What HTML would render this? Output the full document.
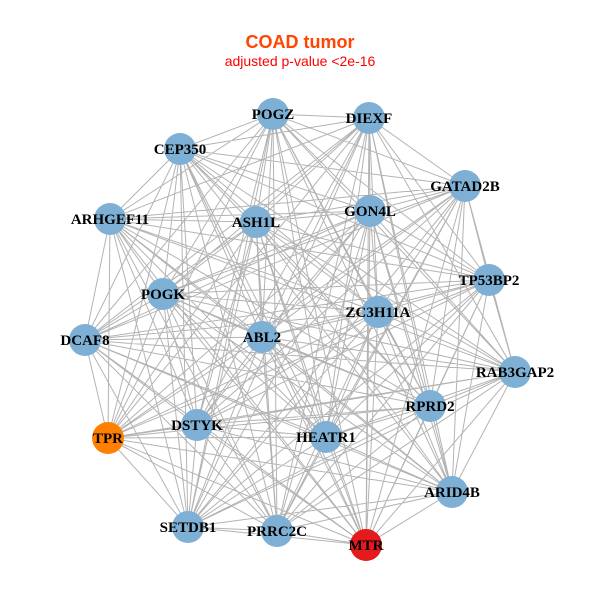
<!DOCTYPE html>
<html><head><meta charset="utf-8"><style>body{margin:0;background:#fff}svg{display:block}</style></head><body>
<svg width="600" height="600" xmlns="http://www.w3.org/2000/svg">
<rect width="600" height="600" fill="#fff"/>
<text x="300" y="48" text-anchor="middle" font-family="Liberation Sans, sans-serif" font-weight="bold" font-size="18" fill="#ff4500">COAD tumor</text>
<text x="300" y="66" text-anchor="middle" font-family="Liberation Sans, sans-serif" font-size="14" fill="#ff0000">adjusted p-value &lt;2e-16</text>
<path fill="none" stroke="#b3b3b3" stroke-width="1" d="
M273 114L369 118L273 114L180 149L273 114L465 186L273 114L110 219L273 114L256 222L273 114L370 211L273 114L489 280L273 114L163 294L273 114L378 312L273 114L85 340L273 114L262 337L273 114L515 372L273 114L430 406L273 114L108 438L273 114L197 425L273 114L326 437L273 114L452 492L273 114L188 527L273 114L277 531L273 114L366 545
M369 118L180 149L369 118L465 186L369 118L110 219L369 118L256 222L369 118L370 211L369 118L489 280L369 118L163 294L369 118L378 312L369 118L85 340L369 118L262 337L369 118L515 372L369 118L430 406L369 118L108 438L369 118L197 425L369 118L326 437L369 118L452 492L369 118L188 527L369 118L277 531L369 118L366 545
M180 149L465 186L180 149L110 219L180 149L256 222L180 149L370 211L180 149L489 280L180 149L163 294L180 149L378 312L180 149L85 340L180 149L262 337L180 149L515 372L180 149L430 406L180 149L108 438L180 149L197 425L180 149L326 437L180 149L452 492L180 149L188 527L180 149L277 531L180 149L366 545
M465 186L110 219L465 186L256 222L465 186L370 211L465 186L489 280L465 186L163 294L465 186L378 312L465 186L85 340L465 186L262 337L465 186L515 372L465 186L430 406L465 186L108 438L465 186L197 425L465 186L326 437L465 186L452 492L465 186L188 527L465 186L277 531L465 186L366 545
M110 219L256 222L110 219L370 211L110 219L489 280L110 219L163 294L110 219L378 312L110 219L85 340L110 219L262 337L110 219L515 372L110 219L430 406L110 219L108 438L110 219L197 425L110 219L326 437L110 219L452 492L110 219L188 527L110 219L277 531L110 219L366 545
M256 222L370 211L256 222L489 280L256 222L163 294L256 222L378 312L256 222L85 340L256 222L262 337L256 222L515 372L256 222L430 406L256 222L108 438L256 222L197 425L256 222L326 437L256 222L452 492L256 222L188 527L256 222L277 531L256 222L366 545
M370 211L489 280L370 211L163 294L370 211L378 312L370 211L85 340L370 211L262 337L370 211L515 372L370 211L430 406L370 211L108 438L370 211L197 425L370 211L326 437L370 211L452 492L370 211L188 527L370 211L277 531L370 211L366 545
M489 280L163 294L489 280L378 312L489 280L85 340L489 280L262 337L489 280L515 372L489 280L430 406L489 280L108 438L489 280L197 425L489 280L326 437L489 280L452 492L489 280L188 527L489 280L277 531L489 280L366 545
M163 294L378 312L163 294L85 340L163 294L262 337L163 294L515 372L163 294L430 406L163 294L108 438L163 294L197 425L163 294L326 437L163 294L452 492L163 294L188 527L163 294L277 531L163 294L366 545
M378 312L85 340L378 312L262 337L378 312L515 372L378 312L430 406L378 312L108 438L378 312L197 425L378 312L326 437L378 312L452 492L378 312L188 527L378 312L277 531L378 312L366 545
M85 340L262 337L85 340L515 372L85 340L430 406L85 340L108 438L85 340L197 425L85 340L326 437L85 340L452 492L85 340L188 527L85 340L277 531L85 340L366 545
M262 337L515 372L262 337L430 406L262 337L108 438L262 337L197 425L262 337L326 437L262 337L452 492L262 337L188 527L262 337L277 531L262 337L366 545
M515 372L430 406L515 372L108 438L515 372L197 425L515 372L326 437L515 372L452 492L515 372L188 527L515 372L277 531L515 372L366 545
M430 406L108 438L430 406L197 425L430 406L326 437L430 406L452 492L430 406L188 527L430 406L277 531L430 406L366 545
M108 438L197 425L108 438L326 437L108 438L452 492L108 438L188 527L108 438L277 531L108 438L366 545
M197 425L326 437L197 425L452 492L197 425L188 527L197 425L277 531L197 425L366 545
M326 437L452 492L326 437L188 527L326 437L277 531L326 437L366 545
M452 492L188 527L452 492L277 531L452 492L366 545
M188 527L277 531L188 527L366 545
M277 531L366 545"/>
<g fill="#7eb0d5">
<circle cx="273" cy="114" r="16"/><circle cx="369" cy="118" r="16"/><circle cx="180" cy="149" r="16"/><circle cx="465" cy="186" r="16"/><circle cx="110" cy="219" r="16"/><circle cx="256" cy="222" r="16"/><circle cx="370" cy="211" r="16"/><circle cx="489" cy="280" r="16"/><circle cx="163" cy="294" r="16"/><circle cx="378" cy="312" r="16"/><circle cx="85" cy="340" r="16"/><circle cx="262" cy="337" r="16"/><circle cx="515" cy="372" r="16"/><circle cx="430" cy="406" r="16"/><circle cx="197" cy="425" r="16"/><circle cx="326" cy="437" r="16"/><circle cx="452" cy="492" r="16"/><circle cx="188" cy="527" r="16"/><circle cx="277" cy="531" r="16"/>
</g>
<circle cx="108" cy="438" r="16" fill="#ff7f00"/>
<circle cx="366" cy="545" r="16" fill="#e41a1c"/>
<g font-family="Liberation Serif, serif" font-weight="bold" font-size="15" text-anchor="middle" fill="#000">
<text x="273" y="119">POGZ</text><text x="369" y="123">DIEXF</text><text x="180" y="154">CEP350</text><text x="465" y="191">GATAD2B</text><text x="110" y="224">ARHGEF11</text><text x="256" y="227">ASH1L</text><text x="370" y="216">GON4L</text><text x="489" y="285">TP53BP2</text><text x="163" y="299">POGK</text><text x="378" y="317">ZC3H11A</text><text x="85" y="345">DCAF8</text><text x="262" y="342">ABL2</text><text x="515" y="377">RAB3GAP2</text><text x="430" y="411">RPRD2</text><text x="108" y="443">TPR</text><text x="197" y="430">DSTYK</text><text x="326" y="442">HEATR1</text><text x="452" y="497">ARID4B</text><text x="188" y="532">SETDB1</text><text x="277" y="536">PRRC2C</text><text x="366" y="550">MTR</text>
</g>
</svg>
</body></html>
